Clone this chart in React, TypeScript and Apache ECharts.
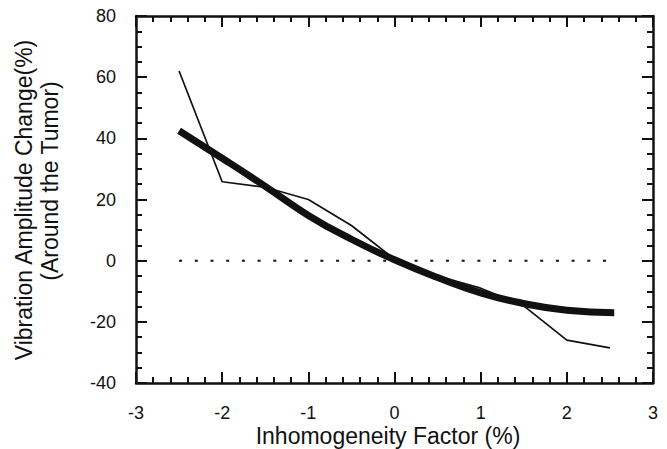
import React, { useEffect, useRef } from "react";
import * as echarts from "echarts";

const xTicks = [-3, -2, -1, 0, 1, 2, 3];
const yTicks = [-40, -20, 0, 20, 40, 60, 80];

const thinX = [-2.5, -2, -1.5, -1, -0.5, 0, 0.5, 1, 1.5, 2, 2.5];
const thinY = [62, 25.8, 24, 20, 11.5, 0.5, -5, -9, -14.8, -26, -28.5];

const fitX = [-2.5, -2, -1.5, -1, -0.5, 0, 0.5, 1, 1.5, 2, 2.55];
const fitY = [42.5, 33.5, 24.3, 14.8, 7, 0.3, -5.5, -10.5, -14, -16.2, -17];

const zeroX = [-2.5, 2.5];
const zeroY = [0, 0];

const xTitle = "Inhomogeneity Factor (%)";
const yTitle1 = "Vibration Amplitude Change(%)";
const yTitle2 = "(Around the Tumor)";

const FONT = "'Liberation Sans', Arial, Helvetica, sans-serif";
const INK = "#111111";

export default function App() {
  const ref = useRef<HTMLDivElement>(null);
  useEffect(() => {
    if (!ref.current) return;
    const chart = echarts.init(ref.current, undefined, { renderer: "svg" });
    const pair = (xs: number[], ys: number[]) => xs.map((x, i) => [x, ys[i]]);
    const tickCommon = {
      axisLine: { show: true, onZero: false, lineStyle: { color: INK, width: 2.5 } },
      axisTick: { show: true, inside: true, length: 11, lineStyle: { color: INK, width: 2 } },
      minorTick: { show: true, length: 6, lineStyle: { color: INK, width: 2 } },
      splitLine: { show: false },
      minorSplitLine: { show: false },
    };
    const xBase = {
      type: "value",
      min: xTicks[0],
      max: xTicks[xTicks.length - 1],
      interval: 1,
      ...tickCommon,
      minorTick: { ...tickCommon.minorTick, splitNumber: 5 },
    };
    const yBase = {
      type: "value",
      min: yTicks[0],
      max: yTicks[yTicks.length - 1],
      interval: 20,
      ...tickCommon,
      minorTick: { ...tickCommon.minorTick, splitNumber: 4 },
    };
    chart.setOption({
      animation: false,
      backgroundColor: "#ffffff",
      grid: { left: 136, right: 14, top: 16, bottom: 66, containLabel: false },
      xAxis: [
        {
          ...xBase,
          position: "bottom",
          axisLabel: { show: true, color: INK, fontSize: 18, fontFamily: FONT, margin: 21 },
        },
        { ...xBase, position: "top", axisLabel: { show: false } },
      ],
      yAxis: [
        {
          ...yBase,
          position: "left",
          axisLabel: { show: true, color: INK, fontSize: 18, fontFamily: FONT, margin: 20 },
        },
        { ...yBase, position: "right", axisLabel: { show: false } },
      ],
      graphic: [
        {
          type: "text",
          x: 388,
          y: 436,
          style: {
            text: xTitle,
            font: `23px ${FONT}`,
            fill: INK,
            textAlign: "center",
            textVerticalAlign: "middle",
          },
        },
        {
          type: "text",
          x: 24,
          y: 200,
          rotation: Math.PI / 2,
          style: {
            text: yTitle1,
            font: `23px ${FONT}`,
            fill: INK,
            textAlign: "center",
            textVerticalAlign: "middle",
          },
        },
        {
          type: "text",
          x: 50,
          y: 181,
          rotation: Math.PI / 2,
          style: {
            text: yTitle2,
            font: `23px ${FONT}`,
            fill: INK,
            textAlign: "center",
            textVerticalAlign: "middle",
          },
        },
      ],
      series: [
        {
          type: "line",
          data: pair(zeroX, zeroY),
          showSymbol: false,
          lineStyle: { color: INK, width: 2, type: [3, 12.7] },
          silent: true,
        },
        {
          type: "line",
          data: pair(thinX, thinY),
          showSymbol: false,
          lineStyle: { color: INK, width: 1.7 },
          silent: true,
        },
        {
          type: "line",
          data: pair(fitX, fitY),
          smooth: true,
          showSymbol: false,
          lineStyle: { color: INK, width: 7 },
          silent: true,
        },
      ],
    });
    return () => chart.dispose();
  }, []);
  return (
    <div
      ref={ref}
      style={{ position: "fixed", left: 0, top: 0, width: 667, height: 449, background: "#fff" }}
    />
  );
}
